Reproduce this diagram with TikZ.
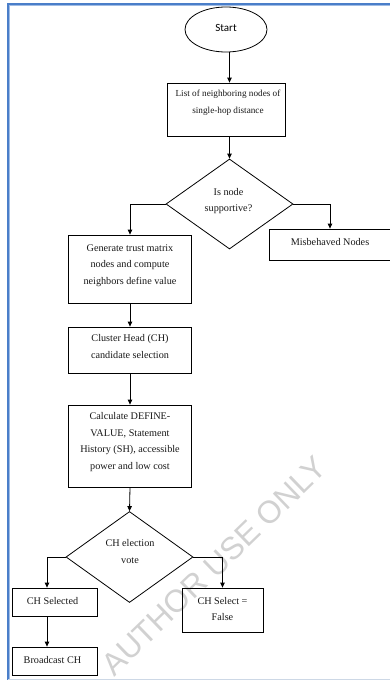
\documentclass[tikz,border=0pt]{standalone}
\usepackage{fontspec}
\setmainfont{Liberation Serif}
\newfontfamily\startfont{Carlito}
\newfontfamily\wmfont{Liberation Sans}
\usetikzlibrary{shapes.geometric,arrows.meta,calc}

\begin{document}
\begin{tikzpicture}[x=1pt,y=-1pt,
  box/.style={draw=black, line width=0.8pt, rectangle, inner sep=0pt},
  dec/.style={draw=black, line width=0.8pt, diamond, inner sep=0pt},
  txt/.style={align=center, font=\fontsize{10.2}{16.5}\selectfont, text=black!90, inner sep=0pt},
  arr/.style={draw=black, line width=0.8pt, -{Triangle[length=5pt,width=4.5pt]}}]
\useasboundingbox (0,0) rectangle (389,680);
\fill[white] (0,0) rectangle (389,680);

% page frame
\draw[line width=1.3pt, color={rgb,255:red,74;green,126;blue,201}] (8,680) -- (8,4) -- (395,4);
\draw[line width=0.8pt, color={rgb,255:red,160;green,188;blue,228}] (9.6,680) -- (9.6,5.6) -- (395,5.6);
\draw[line width=0.8pt, color={rgb,255:red,205;green,216;blue,230}] (8,679.3) -- (395,679.3);

% watermark
\node[font=\wmfont\fontsize{31.5}{31.5}\selectfont, text=black!18, rotate=44, inner sep=0pt]
  (wm) at (214,566) {AUTHOR USE ONLY};

% shapes
\node[draw=black, line width=0.8pt, ellipse, minimum width=82pt, minimum height=45pt, inner sep=0pt]
  (start) at (226,29.5) {};
\node[box, minimum width=118pt, minimum height=53pt] (list) at (226,109.5) {};
\node[dec, minimum width=127pt, minimum height=90pt] (d1) at (229.5,204) {};
\node[box, minimum width=123pt, minimum height=68pt] (gen) at (130,269) {};
\node[box, minimum width=122pt, minimum height=31pt] (mis) at (330,244.5) {};
\node[box, minimum width=123pt, minimum height=46pt] (ch) at (130,350) {};
\node[box, minimum width=123pt, minimum height=82pt] (calc) at (130,446) {};
\node[dec, minimum width=127pt, minimum height=91pt] (d2) at (129.5,557) {};
\node[box, minimum width=85pt, minimum height=28pt] (sel) at (54.5,602) {};
\node[box, minimum width=85pt, minimum height=28pt] (bc) at (54.5,661) {};
\node[box, minimum width=81pt, minimum height=44pt] (fal) at (222.5,610) {};

% texts
\node[font=\startfont\fontsize{11}{13}\selectfont, inner sep=0pt] (tstart) at (226,27.5) {Start};
\node[txt, font=\fontsize{9.2}{17.5}\selectfont] (tlist) at (228,103) {List of neighboring nodes of\\single-hop distance};
\node[txt] (td1) at (228.5,201) {Is node\\supportive?};
\node[txt] (tgen) at (130,265.5) {Generate trust matrix\\nodes and compute\\neighbors define value};
\node[txt] (tmis) at (330,242.5) {Misbehaved Nodes};
\node[txt] (tch) at (130,346.5) {Cluster Head (CH)\\candidate selection};
\node[txt] (tcalc) at (130,442) {Calculate DEFINE-\\VALUE, Statement\\History (SH), accessible\\power and low cost};
\node[txt] (td2) at (130,551.5) {CH election\\vote};
\node[txt] (tsel) at (52.5,601) {CH Selected};
\node[txt] (tbc) at (52.5,660) {Broadcast CH};
\node[txt] (tfal) at (222.5,609) {CH Select =\\False};

% connectors
\coordinate (lx) at (47,0);
\draw[arr] (start.south -| d1.north) -- (list.north -| d1.north);
\draw[arr] (list.south -| d1.north) -- (d1.north);
\draw[arr] (d1.west) -| (gen.north);
\draw[arr] (d1.east) -| (mis.north);
\draw[arr] (gen.south) -- (ch.north);
\draw[arr] (ch.south) -- (calc.north);
\draw[arr] (calc.south) -- (d2.north);
\draw[arr] (d2.west) -| (sel.north -| lx);
\draw[arr] (sel.south -| lx) -- (bc.north -| lx);
\draw[arr] (d2.east) -| (fal.north);
\end{tikzpicture}
\end{document}
